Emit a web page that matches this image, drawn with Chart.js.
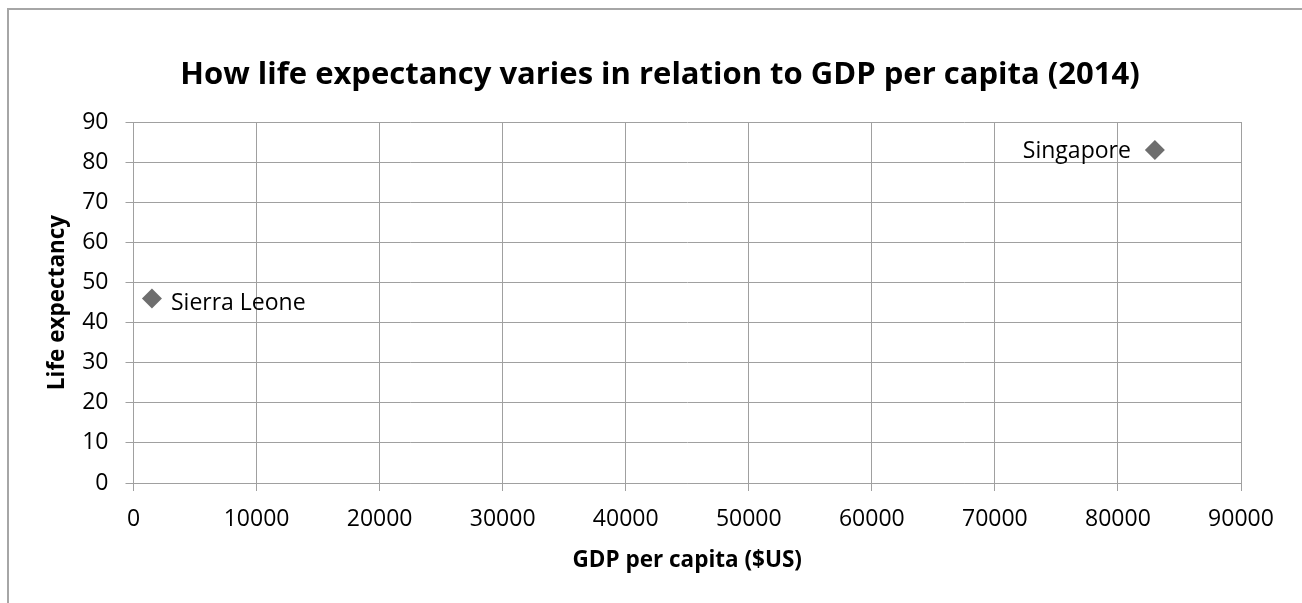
<!DOCTYPE html>
<html>
<head>
<meta charset="utf-8">
<script src="https://cdn.jsdelivr.net/npm/chart.js@4/dist/chart.umd.min.js"></script>
<style>
  html, body { margin: 0; padding: 0; background: #fff; }
  #wrap { position: relative; width: 1302px; height: 603px; overflow: hidden; }
  #frame { position: absolute; left: 7px; top: 8px; width: 1400px; height: 700px;
           border-top: 2px solid #a6a6a6; border-left: 2px solid #a6a6a6; box-sizing: border-box; }
  canvas { position: absolute; left: 0; top: 0; }
</style>
</head>
<body>
<div id="wrap">
  <div id="frame"></div>
  <canvas id="chart" width="1302" height="603"></canvas>
</div>
<script>
const countries = ["Sierra Leone", "Singapore"];
const gdpPerCapita = [1500, 83000];
const lifeExpectancy = [46, 83];
const labelSide = ["right", "left"];

const xTicks = [0, 10000, 20000, 30000, 40000, 50000, 60000, 70000, 80000, 90000];
const yTicks = [0, 10, 20, 30, 40, 50, 60, 70, 80, 90];

const chartTitle = "How life expectancy varies in relation to GDP per capita (2014)";

const FONT = "'Open Sans', sans-serif";
const GRID = "#a0a0a0";

// country names beside the points + chart title (the original is centred on the full frame)
const pointLabels = {
  id: "pointLabels",
  afterDatasetsDraw(chart) {
    const ctx = chart.ctx;
    const meta = chart.getDatasetMeta(0);
    ctx.save();
    ctx.font = "23px " + FONT;
    ctx.fillStyle = "#000";
    ctx.textBaseline = "middle";
    meta.data.forEach((pt, i) => {
      if (labelSide[i] === "right") {
        ctx.textAlign = "left";
        ctx.fillText(countries[i], pt.x + 19, pt.y + 5);
      } else {
        ctx.textAlign = "right";
        ctx.fillText(countries[i], pt.x - 24, pt.y + 1);
      }
    });

    ctx.font = "bold 31px " + FONT;
    ctx.textAlign = "center";
    ctx.fillText(chartTitle, 660, 75);
    ctx.restore();
  }
};

const ctx = document.getElementById("chart").getContext("2d");
new Chart(ctx, {
  type: "scatter",
  data: {
    datasets: [{
      label: "Countries",
      data: gdpPerCapita.map((g, i) => ({ x: g, y: lifeExpectancy[i] })),
      pointStyle: "rectRot",
      pointRadius: 10,
      pointHoverRadius: 10,
      backgroundColor: "#6e6e6e",
      borderColor: "#6e6e6e",
      borderWidth: 0
    }]
  },
  options: {
    responsive: false,
    animation: false,
    devicePixelRatio: 1,
    layout: { padding: { top: 122, left: 0, right: 61, bottom: 0 } },
    plugins: {
      legend: { display: false },
      tooltip: { enabled: false },
      title: { display: false }
    },
    scales: {
      x: {
        type: "linear",
        min: 0,
        max: 90000,
        afterBuildTicks: s => { s.ticks = xTicks.map(v => ({ value: v })); },
        afterFit: s => { s.height = 120; },
        ticks: {
          color: "#000",
          font: { family: FONT, size: 23 },
          padding: 15,
          maxRotation: 0,
          callback: v => String(v)
        },
        grid: { color: GRID, lineWidth: 1, tickLength: 8, drawTicks: true },
        border: { color: GRID, width: 1 },
        title: {
          display: true,
          text: "GDP per capita ($US)",
          color: "#000",
          font: { family: FONT, size: 22.5, weight: "bold" },
          padding: { top: 0, bottom: 29 }
        }
      },
      y: {
        type: "linear",
        min: 0,
        max: 90,
        afterBuildTicks: s => { s.ticks = yTicks.map(v => ({ value: v })); },
        afterFit: s => { s.width = 133.5; },
        ticks: {
          color: "#000",
          font: { family: FONT, size: 23 },
          padding: 17,
          callback: v => String(v)
        },
        grid: { color: GRID, lineWidth: 1, tickLength: 8, drawTicks: true },
        border: { color: GRID, width: 1 },
        title: {
          display: true,
          text: "Life expectancy",
          color: "#000",
          font: { family: FONT, size: 22.5, weight: "bold" },
          padding: { top: 44, bottom: 0 }
        }
      }
    }
  },
  plugins: [pointLabels]
});
</script>
</body>
</html>
